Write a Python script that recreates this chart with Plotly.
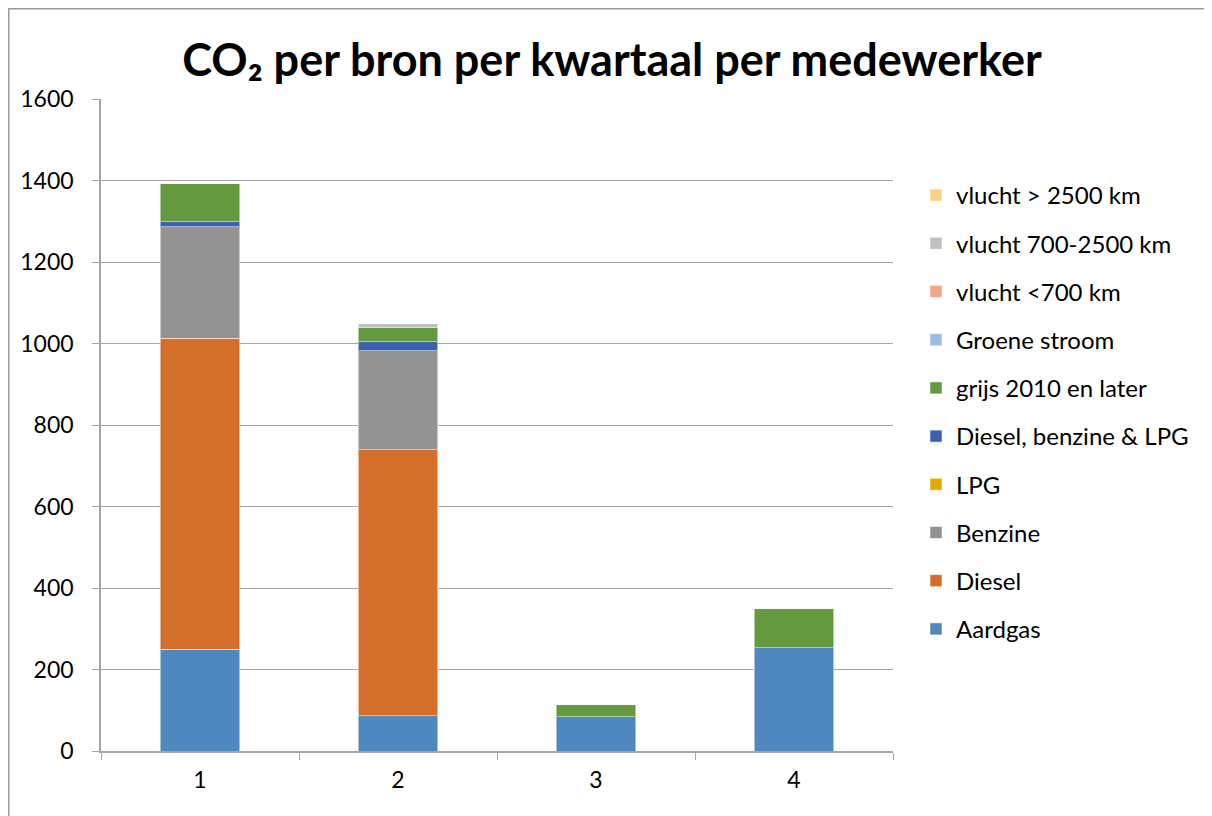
import plotly.graph_objects as go

quarters = ["1", "2", "3", "4"]
series_names = ["Aardgas", "Diesel", "Benzine", "LPG", "Diesel, benzine & LPG",
                "grijs 2010 en later", "Groene stroom", "vlucht <700 km",
                "vlucht 700-2500 km", "vlucht > 2500 km"]
aardgas = [250, 86, 84, 254]
diesel = [763, 653, 0, 0]
benzine = [273, 243, 0, 0]
lpg = [0, 0, 0, 0]
diesel_benzine_lpg = [13, 22, 0, 0]
grijs = [94, 35, 31, 96]
groene_stroom = [0, 0, 0, 0]
vlucht_kort = [0, 0, 0, 0]
vlucht_midden = [0, 9, 0, 0]
vlucht_lang = [0, 0, 0, 0]
values = [aardgas, diesel, benzine, lpg, diesel_benzine_lpg, grijs,
          groene_stroom, vlucht_kort, vlucht_midden, vlucht_lang]
colors = ["#4F88BE", "#D46F2B", "#939393", "#E5A800", "#3D62AD",
          "#659A41", "#9BBCE2", "#F1A78A", "#C0C0C0", "#FFD083"]

FONT = "Lato, Carlito, Calibri, sans-serif"
OFF = 8  # page body margin
L, T, PW, PH = 101 - OFF, 99 - OFF, 792, 652
W, H = 1212, 816

fig = go.Figure()
n = len(series_names)
for i, (name, vals, col) in enumerate(zip(series_names, values, colors)):
    fig.add_trace(go.Bar(
        x=quarters, y=vals, name=name, legendgroup=name, legendrank=(n - i) * 10,
        marker=dict(color=col, line=dict(color="rgba(255,255,255,0.5)", width=1)),
    ))

fig.update_layout(
    barmode="stack",
    bargap=0.6,
    width=W, height=H,
    margin=dict(l=L, r=W - L - PW, t=T, b=H - T - PH, autoexpand=False),
    paper_bgcolor="white", plot_bgcolor="white",
    font=dict(family=FONT, color="#000000", size=23),
    title=dict(text="<b>CO₂ per bron per kwartaal per medewerker</b>",
               x=(612 - OFF) / W, xanchor="center", y=1 - (60 - OFF) / H, yanchor="middle",
               yref="container", font=dict(size=45, family=FONT, color="#000")),
    legend=dict(x=(916 - OFF - L) / PW, xanchor="left",
                y=(PH - (173 - OFF - T)) / PH, yanchor="top",
                traceorder="grouped", tracegroupgap=14,
                font=dict(size=24, family=FONT, color="#000"),
                itemwidth=30, bgcolor="rgba(0,0,0,0)"),
    showlegend=True,
)
fig.update_xaxes(type="category", showline=True, linecolor="#A6A6A6", linewidth=1.5,
                 ticks="outside", tickson="boundaries", ticklen=7, tickcolor="#A6A6A6",
                 tickfont=dict(size=23), showgrid=False, ticklabelstandoff=8)
fig.update_yaxes(range=[0, 1600], dtick=200, showline=True, linecolor="#A6A6A6",
                 linewidth=1.5, ticks="outside", ticklen=7, tickcolor="#A6A6A6",
                 gridcolor="#A6A6A6", gridwidth=1.2, tickfont=dict(size=23),
                 zeroline=False, ticklabelstandoff=14)

fig.add_shape(type="rect", xref="paper", yref="paper",
              x0=(0.5 - L) / PW, x1=(W + 20 - L) / PW,
              y0=(PH + T - H - 20) / PH, y1=(PH + T - 0.5) / PH,
              line=dict(color="#9A9A9A", width=2), fillcolor="rgba(0,0,0,0)", layer="below")

fig.write_html("out.html")
